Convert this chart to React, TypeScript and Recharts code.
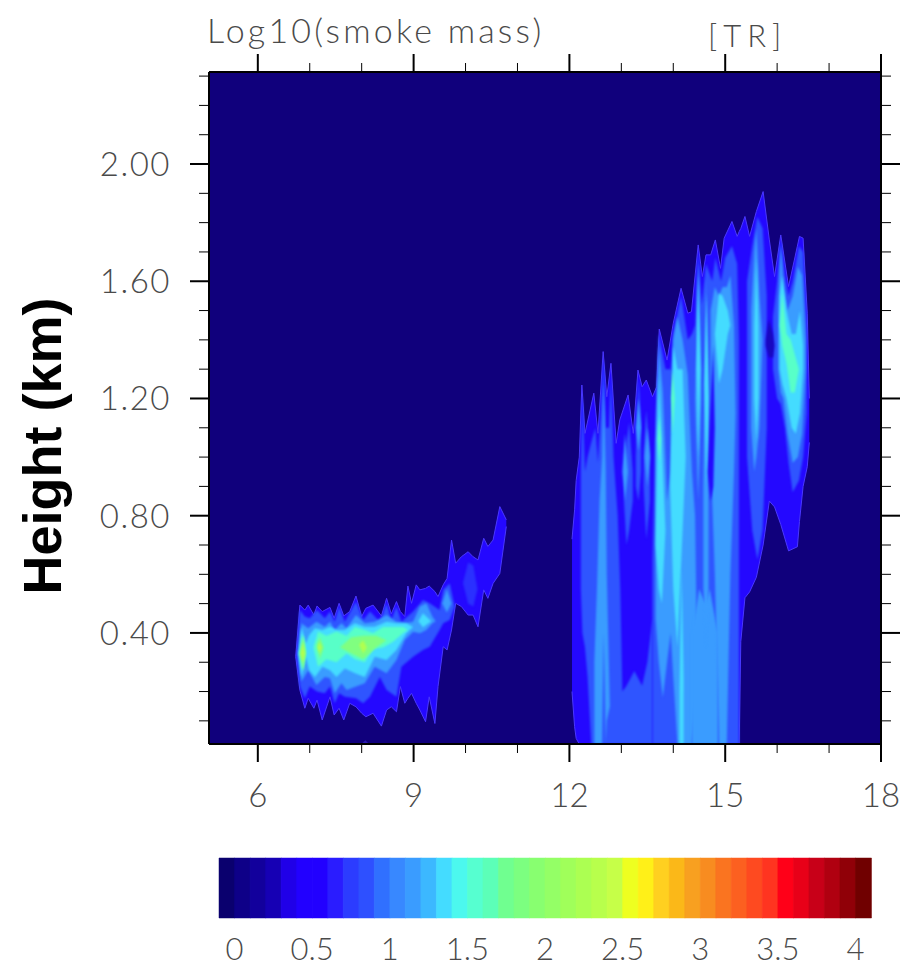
import React from "react";
import { ComposedChart, BarChart, Area, Bar, Cell, XAxis, YAxis, CartesianGrid } from "recharts";

type T = [number, number, number];
const F = 0.021;

// ---- axis ticks
const xTicks = [6, 7, 8, 9, 10, 11, 12, 13, 14, 15, 16, 17, 18];
const yTicks = [0.1, 0.2, 0.3, 0.4, 0.5, 0.6, 0.7, 0.8, 0.9, 1.0, 1.1, 1.2, 1.3, 1.4, 1.5, 1.6, 1.7, 1.8, 1.9, 2.0, 2.1, 2.2, 2.3];
const barTicks = [0, 0.5, 1, 1.5, 2, 2.5, 3, 3.5, 4];

// ---- colour scale, one band per 0.1 from -0.1 to 4.1
const scaleColors = [
  "#0a006e", "#0e0088", "#12009c", "#1600b4", "#2000e8", "#2200ff", "#2200ff", "#2a1cff", "#2c3cff", "#2e50ff",
  "#3070ff", "#3888ff", "#3a9cff", "#3cb8ff", "#44dcff", "#4cf8ee", "#56ffd0", "#5cffb8", "#70ff90", "#7cff80",
  "#88ff70", "#94ff66", "#a0ff5a", "#acff52", "#b8ff4c", "#c6ff48", "#eeff20", "#fff018", "#ffd020", "#fbb818",
  "#f8a020", "#f88c20", "#fa7420", "#fc6020", "#fe4a20", "#ff3420", "#ff0018", "#e80018", "#c80018", "#b00010",
  "#900008", "#700000",
];
const scaleRows = scaleColors.map((c, i) => ({ level: i, mid: (i - 0.5) / 10, h: 1 }));

// ---- left plume [x, low, high]
const leftOuter: T[] = [
  [6.73,.319,.319],[6.81,.205,.495],[6.905,.143,.478],[6.97,.177,.495],[7.08,.143,.461],[7.14,.171,.492],[7.24,.103,.473],[7.39,.182,.487],[7.47,.12,.45],[7.565,.143,.501],[7.655,.103,.458],[7.77,.16,.473],[7.89,.148,.526],[8.0,.126,.456],[8.08,.114,.484],[8.22,.126,.495],[8.38,.082,.458],[8.48,.137,.518],[8.57,.148,.465],[8.67,.131,.507],[8.745,.217,.473],[8.83,.16,.456],[8.89,.177,.56],[8.96,.194,.501],[9.05,.16,.564],[9.12,.137,.547],[9.23,.097,.552],[9.30,.182,.56],[9.41,.091,.541],[9.47,.217,.524],[9.57,.353,.564],[9.645,.342,.586],[9.73,.41,.717],[9.81,.501,.638],[9.92,.49,.66],[10.05,.461,.677],[10.145,.461,.66],[10.24,.421,.649],[10.35,.547,.723],[10.43,.518,.695],[10.53,.569,.717],[10.66,.603,.831],[10.785,.763,.786],
];
const leftSpeck: T[] = [[8.0,F,.022],[8.07,F,.034],[8.14,F,.022]];
const leftBlue: T[] = [
  [6.745,.32,.32],[6.81,.217,.478],[6.905,.177,.456],[7.0,.217,.45],[7.14,.2,.478],[7.29,.194,.45],[7.39,.217,.473],[7.48,.16,.438],[7.565,.194,.49],[7.675,.182,.438],[7.89,.177,.507],[8.03,.16,.444],[8.16,.182,.473],[8.35,.25,.438],[8.48,.205,.501],[8.57,.194,.444],[8.67,.182,.49],[8.765,.285,.438],[8.99,.319,.473],[9.18,.342,.512],[9.31,.353,.501],[9.5,.41,.478],[9.57,.433,.547],[9.695,.444,.569],[9.79,.49,.49],
];
const leftPatch: T[] = [[9.95,.57,.57],[10.05,.5,.64],[10.15,.49,.63],[10.23,.55,.55]];
const leftSky: T[] = [
  [6.78,.33,.33],[6.84,.234,.433],[6.97,.273,.416],[7.13,.222,.438],[7.29,.25,.421],[7.39,.245,.438],[7.48,.194,.41],[7.61,.228,.433],[7.71,.205,.416],[7.89,.217,.461],[8.06,.228,.433],[8.25,.285,.438],[8.48,.262,.461],[8.67,.308,.438],[8.83,.376,.433],[8.99,.404,.438],[9.12,.399,.49],[9.245,.41,.501],[9.36,.433,.456],[9.425,.44,.44],
];
const leftSkyTip: T[] = [[9.55,.5,.5],[9.64,.47,.55],[9.73,.5,.5]];
const leftCyan: T[] = [
  [6.78,.33,.33],[6.84,.25,.421],[6.925,.319,.364],[6.99,.273,.393],[7.1,.25,.416],[7.245,.285,.41],[7.39,.273,.421],[7.515,.25,.41],[7.675,.279,.41],[7.87,.262,.433],[8.06,.25,.421],[8.25,.319,.421],[8.48,.308,.438],[8.67,.342,.433],[8.86,.399,.433],[8.99,.42,.42],
];
const leftCyanSpot: T[] = [[9.09,.44,.44],[9.18,.419,.467],[9.34,.44,.44]];
const leftTeal: T[] = [
  [6.8,.33,.33],[6.86,.273,.399],[6.925,.34,.34],
];
const leftTeal2: T[] = [
  [7.07,.35,.35],[7.16,.285,.405],[7.32,.31,.39],[7.515,.30,.405],[7.71,.33,.39],[7.87,.31,.42],[8.06,.30,.41],[8.22,.345,.40],[8.41,.35,.42],[8.605,.37,.42],[8.8,.40,.42],[8.89,.41,.41],
];
const leftGreen: T[] = [[6.81,.33,.33],[6.875,.27,.39],[6.925,.33,.33]];
const leftGreen2: T[] = [[7.13,.36,.36],[7.195,.31,.385],[7.27,.35,.35]];
const leftGreen3: T[] = [[7.58,.35,.35],[7.80,.33,.385],[8.03,.31,.39],[8.28,.35,.39],[8.48,.375,.375]];
const leftLime: T[] = [[6.82,.33,.33],[6.87,.30,.37],[6.91,.33,.33]];
const leftLime2: T[] = [[7.15,.35,.35],[7.19,.33,.37],[7.23,.35,.35]];
const leftLime3: T[] = [[7.95,.36,.36],[8.03,.33,.375],[8.1,.35,.35]];

// ---- right plume [x, low, high]
const rightOuter: T[] = [
  [12.05,.20,.72],[12.10,.08,.82],[12.13,.04,.92],[12.19,F,1.0],[12.24,F,1.246],[12.30,F,1.081],[12.47,F,1.218],[12.55,F,1.081],[12.65,F,1.36],[12.72,F,1.206],[12.80,F,1.32],[12.90,F,1.047],[12.97,F,1.127],[13.13,F,1.212],[13.23,F,1.081],[13.32,F,1.297],[13.40,F,1.24],[13.48,F,1.263],[13.60,F,1.206],[13.68,F,1.24],[13.73,F,1.437],[13.88,F,1.331],[14.00,F,1.457],[14.15,F,1.576],[14.28,F,1.491],[14.35,F,1.496],[14.48,F,1.724],[14.56,F,1.616],[14.63,F,1.69],[14.72,F,1.69],[14.81,F,1.741],[14.91,F,1.644],[14.98,F,1.747],[15.13,F,1.804],[15.23,F,1.753],[15.27,F,1.77],[15.30,.37,1.78],[15.38,.52,1.821],[15.47,.54,1.753],[15.60,.59,1.838],[15.73,.70,1.906],[15.85,.85,1.741],[15.95,.83,1.616],[16.07,.77,1.758],[16.22,.68,1.582],[16.39,.694,1.72],[16.43,.78,1.753],[16.50,.90,1.747],[16.58,.967,1.491],[16.62,1.05,1.2],
];
const blueA: T[] = [
  [12.22,.55,.95],[12.25,.40,1.22],[12.30,.35,.95],[12.35,.25,1.0],[12.42,F,1.05],[12.50,F,1.10],[12.55,F,.98],[12.62,F,1.2],[12.66,F,1.34],[12.70,F,1.10],[12.76,F,1.10],[12.80,F,1.28],[12.85,F,1.0],[12.93,F,.80],[12.98,F,.55],[13.02,F,.2],[13.1,F,.22],[13.25,F,.27],[13.4,F,.22],[13.5,F,.3],[13.6,F,.45],
];
const blueC: T[] = [[13.05,.85,.85],[13.10,.70,1.05],[13.15,.75,1.12],[13.22,.85,.95]];
const blueD: T[] = [[13.28,.9,1.0],[13.33,.85,1.27],[13.38,.95,1.12]];
const blueE: T[] = [[13.43,.90,1.02],[13.48,.72,1.16],[13.55,.85,1.02]];
const blueF: T[] = [
  [13.60,F,.65],[13.66,F,1.15],[13.72,F,1.42],[13.85,F,1.30],[13.95,F,1.3],[14.0,F,1.42],[14.15,F,1.55],[14.28,F,1.40],[14.36,F,1.42],[14.42,F,1.45],[14.48,F,1.70],[14.55,F,1.52],[14.63,F,1.66],[14.75,F,1.60],[14.81,F,1.68],[14.92,F,1.6],[15.0,F,1.68],[15.13,F,1.72],[15.23,F,1.66],[15.265,F,1.4],
];
const blueG: T[] = [[15.42,1.0,1.6],[15.52,.75,1.72],[15.62,.65,1.82],[15.72,.75,1.78],[15.80,1.1,1.55]];
const blueH: T[] = [[15.92,1.3,1.48],[16.0,1.2,1.60],[16.07,1.18,1.74],[16.15,1.1,1.62],[16.22,.98,1.55],[16.3,.88,1.60],[16.42,.92,1.72],[16.5,1.0,1.70],[16.57,1.15,1.45]];

const skyA: T[] = [[12.48,F,.30],[12.53,F,.55],[12.58,F,.85],[12.63,F,1.0],[12.66,.4,1.25],[12.7,F,.95],[12.72,.1,.6],[12.78,.15,.15]];
const skyB: T[] = [[13.02,.95,.95],[13.07,.85,1.08],[13.13,.95,.95]];
const skyC: T[] = [[13.28,1.1,1.1],[13.33,1.02,1.2],[13.38,1.1,1.1]];
const skyD: T[] = [[13.45,1.0,1.0],[13.5,.9,1.1],[13.55,1.0,1.0]];
const skyE: T[] = [[13.66,.45,1.05],[13.72,.30,1.38],[13.80,.18,1.22],[13.88,.30,.85],[13.95,.40,.95],[14.0,.25,1.40],[14.08,F,1.48],[14.18,F,1.40],[14.28,F,1.28],[14.36,F,.95],[14.42,.15,.80],[14.46,.3,.3]];
const skyF: T[] = [[14.36,F,.4],[14.5,F,.55],[14.62,F,.5],[14.7,F,.55],[14.86,F,.4]];
const skyG: T[] = [[14.42,1.2,1.2],[14.48,.85,1.66],[14.54,1.2,1.3]];
const skyH: T[] = [[14.58,.55,.90],[14.63,.35,1.62],[14.68,.55,1.10]];
const skyI: T[] = [[14.72,1.0,1.5],[14.80,.60,1.58],[14.88,F,1.55],[14.95,F,1.58],[15.03,F,1.58],[15.1,.6,1.62],[15.17,.95,1.45],[15.2,1.15,1.15]];
const skyJ: T[] = [[15.5,1.1,1.5],[15.56,.95,1.7],[15.6,1.0,1.78],[15.66,1.1,1.55],[15.72,1.4,1.4]];
const skyK: T[] = [[16.02,1.30,1.50],[16.07,1.22,1.72],[16.12,1.2,1.58],[16.2,1.08,1.50],[16.3,.98,1.55],[16.4,1.0,1.65],[16.48,1.08,1.62],[16.55,1.3,1.4]];

const cyanA: T[] = [[13.66,.7,.7],[13.72,.55,1.28],[13.78,.5,1.05],[13.85,.75,.75]];
const cyanB: T[] = [[13.94,.9,.9],[14.0,.55,1.38],[14.08,.35,1.30],[14.18,.75,1.30],[14.24,1.0,1.0]];
const cyanC: T[] = [[14.12,F,.2],[14.16,F,.62],[14.2,F,.25]];
const cyanD: T[] = [[14.45,1.3,1.3],[14.48,1.0,1.62],[14.52,1.3,1.3]];
const cyanE: T[] = [[14.60,1.25,1.25],[14.64,.9,1.56],[14.68,1.2,1.2]];
const cyanF: T[] = [[14.8,1.42,1.42],[14.88,1.25,1.56],[14.95,1.3,1.55],[15.05,1.42,1.5],[15.1,1.45,1.45]];
const cyanG: T[] = [[15.56,1.2,1.45],[15.6,1.05,1.68],[15.64,1.2,1.45]];
const cyanH: T[] = [[16.05,1.3,1.55],[16.1,1.25,1.62],[16.18,1.2,1.5],[16.28,1.1,1.42],[16.36,1.08,1.42],[16.44,1.15,1.5],[16.5,1.3,1.38]];

const tealA: T[] = [[16.05,1.45,1.45],[16.1,1.38,1.56],[16.18,1.32,1.42],[16.26,1.22,1.4],[16.34,1.22,1.35],[16.42,1.3,1.3]];
const tealB: T[] = [[13.70,1.06,1.06],[13.73,.98,1.14],[13.76,1.06,1.06]];
const tealC: T[] = [[13.96,1.2,1.2],[13.99,1.08,1.3],[14.03,1.2,1.2]];

const holeA: T[] = [[14.66,.95,.95],[14.72,.85,1.2],[14.77,.9,1.38],[14.8,1.1,1.1]];
const holeB: T[] = [[15.78,1.38,1.40],[15.84,1.34,1.47],[15.92,1.34,1.42],[15.95,1.38,1.38]];

const BLUE0 = "#2408ff", BLUE1 = "#2f55ff", SKY = "#3a9cff", CYAN = "#44dcff", TEAL = "#58ffc8", GREEN = "#80ff80", LIME = "#b0ff50";

const layers: [T[], string, number][] = [
  [leftSpeck, "#2a18b0", 0.5],
  [leftOuter, BLUE0, 0], [rightOuter, BLUE0, 0],
  [leftPatch, "#2a30ff", 1], [leftBlue, BLUE1, 1], [leftSky, SKY, 1], [leftSkyTip, SKY, 1], [leftCyan, CYAN, 1], [leftCyanSpot, CYAN, 1],
  [leftTeal, TEAL, 1], [leftTeal2, TEAL, 1], [leftGreen, GREEN, 1], [leftGreen2, GREEN, 1], [leftGreen3, GREEN, 1], [leftLime, LIME, 1], [leftLime2, LIME, 1], [leftLime3, LIME, 1],
  [blueA, BLUE1, 1.2], [blueC, BLUE1, 1.2], [blueD, BLUE1, 1.2], [blueE, BLUE1, 1.2], [blueF, BLUE1, 1.2], [blueG, BLUE1, 1.2], [blueH, BLUE1, 1.2],
  [skyA, SKY, 1.2], [skyB, SKY, 1.2], [skyC, SKY, 1.2], [skyD, SKY, 1.2], [skyE, SKY, 1.2], [skyF, SKY, 1.2], [skyG, SKY, 1.2], [skyH, SKY, 1.2], [skyI, SKY, 1.2], [skyJ, SKY, 1.2], [skyK, SKY, 1.2],
  [holeA, BLUE0, 1.2], [holeB, "#1808c0", 1.2],
  [cyanA, CYAN, 1.2], [cyanB, CYAN, 1.2], [cyanC, CYAN, 1.2], [cyanD, CYAN, 1.2], [cyanE, CYAN, 1.2], [cyanF, CYAN, 1.2], [cyanG, CYAN, 1.2], [cyanH, CYAN, 1.2],
  [tealA, TEAL, 1.2], [tealB, TEAL, 1], [tealC, TEAL, 1],
];

const FONT = "Lato, 'Open Sans', sans-serif";
const INK = "#4a4a4a";

const BottomTick = (p: any) => {
  const major = p.payload.value % 3 === 0;
  return (
    <g>
      <line x1={p.x} x2={p.x} y1={p.y} y2={p.y + (major ? 18 : 9)} stroke="#000" strokeWidth={major ? 2 : 1} />
      {major && <text x={p.x} y={p.y + 63} textAnchor="middle" fontFamily={FONT} fontWeight={300} fontSize={33} fill={INK}>{p.payload.value}</text>}
    </g>
  );
};
const TopTick = (p: any) => {
  const major = p.payload.value % 3 === 0;
  return <line x1={p.x} x2={p.x} y1={p.y} y2={p.y - (major ? 18 : 9)} stroke="#000" strokeWidth={major ? 2 : 1} />;
};
const isMajorY = (v: number) => Math.round(v * 10) % 4 === 0;
const LeftTick = (p: any) => {
  const major = isMajorY(p.payload.value);
  return (
    <g>
      <line x1={p.x} x2={p.x - (major ? 19 : 10)} y1={p.y} y2={p.y} stroke="#000" strokeWidth={major ? 2 : 1} />
      {major && <text x={p.x - 38} y={p.y + 12} textAnchor="end" fontFamily={FONT} fontWeight={300} fontSize={33} letterSpacing={1.5} fill={INK}>{p.payload.value.toFixed(2)}</text>}
    </g>
  );
};
const RightTick = (p: any) => {
  const major = isMajorY(p.payload.value);
  return <line x1={p.x} x2={p.x + (major ? 19 : 10)} y1={p.y} y2={p.y} stroke="#000" strokeWidth={major ? 2 : 1} />;
};
const BarTick = (p: any) => (
  <text x={p.x} y={p.y + 42} textAnchor="middle" fontFamily={FONT} fontWeight={300} fontSize={31} fill={INK}>{p.payload.value}</text>
);

export default function App() {
  return (
    <div style={{ position: "absolute", left: 0, top: 0, width: 915, height: 968, background: "#fff", overflow: "hidden" }}>
      <div style={{ position: "absolute", left: 0, top: 0 }}>
        <ComposedChart width={915} height={840} margin={{ top: 52, right: 14, bottom: 76, left: 189 }}>
          <CartesianGrid horizontal={false} vertical={false} fill="#10007c" xAxisId="b" yAxisId="l" />
          <XAxis xAxisId="b" dataKey="x" type="number" orientation="bottom" height={20} domain={[5.06, 18]} allowDataOverflow ticks={xTicks} interval={0} tick={BottomTick} tickLine={false} tickSize={0} tickMargin={0} axisLine={{ stroke: "#000", strokeWidth: 2 }} />
          <XAxis xAxisId="t" dataKey="x" type="number" orientation="top" height={20} domain={[5.06, 18]} allowDataOverflow ticks={xTicks} interval={0} tick={TopTick} tickLine={false} tickSize={0} tickMargin={0} axisLine={{ stroke: "#000", strokeWidth: 2 }} />
          <YAxis yAxisId="l" type="number" orientation="left" width={20} domain={[0.021, 2.314]} allowDataOverflow ticks={yTicks} interval={0} tick={LeftTick} tickLine={false} tickSize={0} tickMargin={0} axisLine={{ stroke: "#000", strokeWidth: 2 }} />
          <YAxis yAxisId="r" type="number" orientation="right" width={20} domain={[0.021, 2.314]} allowDataOverflow ticks={yTicks} interval={0} tick={RightTick} tickLine={false} tickSize={0} tickMargin={0} axisLine={{ stroke: "#000", strokeWidth: 2 }} />
          {layers.map(([rows, color, blur], i) => (
            <Area
              key={i}
              xAxisId="b"
              yAxisId="l"
              data={rows.map(([x, lo, hi]) => ({ x, band: [lo, hi] }))}
              dataKey="band"
              type="linear"
              fill={color}
              fillOpacity={1}
              stroke={blur === 0 ? "#4a38ff" : "none"}
              strokeWidth={blur === 0 ? 1 : 0}
              dot={false}
              activeDot={false}
              isAnimationActive={false}
              style={blur ? { filter: `blur(${blur}px)` } : undefined}
            />
          ))}
          <text x={207} y={43} fontFamily={FONT} fontWeight={300} fontSize={34} letterSpacing={3.2} fill={INK}>Log10(smoke mass)</text>
          <text x={708} y={47} fontFamily={FONT} fontWeight={300} fontSize={31} letterSpacing={6} fill={INK}>[TR]</text>
          <text transform="translate(61 446) rotate(-90)" textAnchor="middle" fontFamily="'Liberation Sans', Arial, sans-serif" fontWeight={700} fontSize={54} fill="#000">Height (km)</text>
        </ComposedChart>
      </div>
      <div style={{ position: "absolute", left: 0, top: 840 }}>
        <BarChart width={915} height={128} data={scaleRows} barCategoryGap={0} margin={{ top: 18, right: 44, bottom: 30, left: 219 }}>
          <XAxis xAxisId="cat" dataKey="level" type="category" hide height={0} />
          <XAxis xAxisId="val" dataKey="mid" type="number" orientation="bottom" height={20} domain={[-0.1, 4.1]} allowDataOverflow ticks={barTicks} interval={0} tick={BarTick} tickLine={false} tickSize={0} tickMargin={0} axisLine={false} />
          <YAxis type="number" domain={[0, 1]} hide />
          <Bar xAxisId="cat" dataKey="h" isAnimationActive={false}>
            {scaleColors.map((c, i) => <Cell key={i} fill={c} stroke={c} strokeWidth={0.5} />)}
          </Bar>
        </BarChart>
      </div>
    </div>
  );
}
